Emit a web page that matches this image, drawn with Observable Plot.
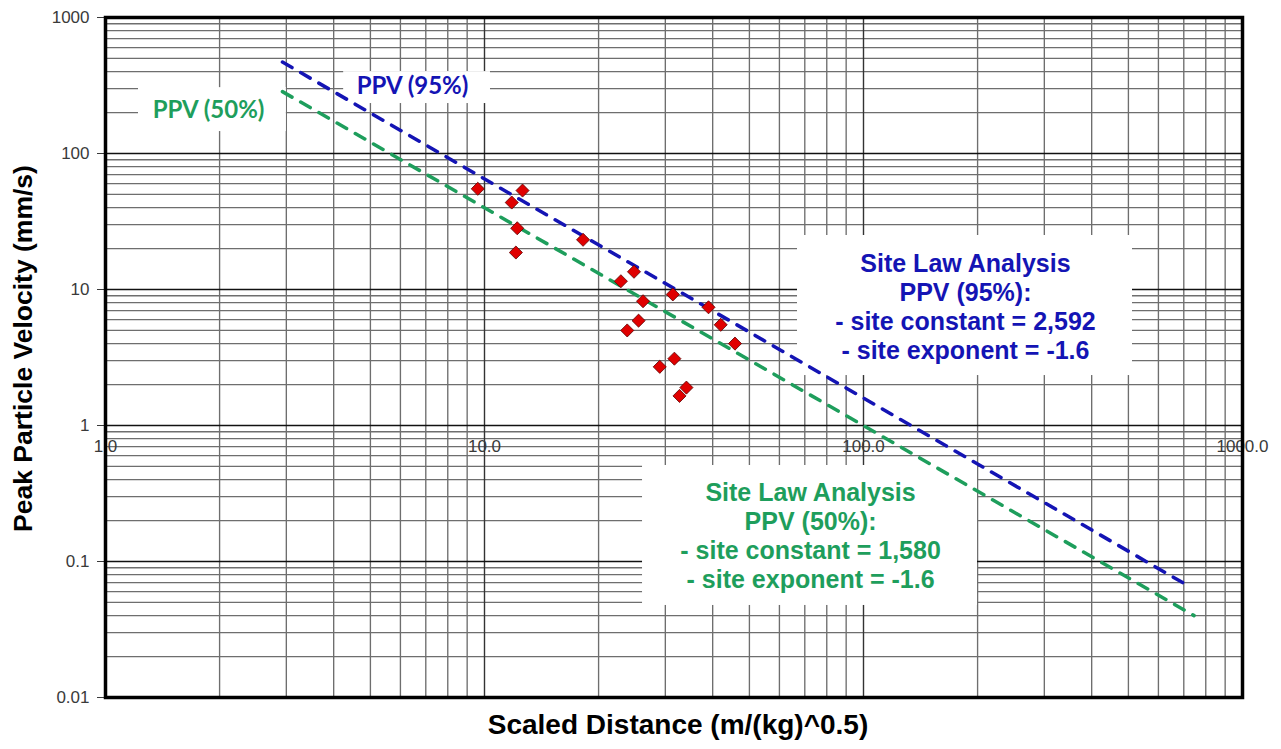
<!DOCTYPE html>
<html><head><meta charset="utf-8">
<script src="https://cdn.jsdelivr.net/npm/d3@7"></script>
<script src="https://cdn.jsdelivr.net/npm/@observablehq/plot@0.6"></script>
<style>body{margin:0;background:#fff;} #chart svg{display:block}</style>
</head><body><div id="chart"></div>
<script>
// Measured blasts: scaled distance (m/kg^0.5) and peak particle velocity (mm/s)
const scaledDistance = [9.6, 12.6, 11.8, 12.2, 12.1, 18.2, 24.8, 22.9, 31.4, 26.2, 39.0, 25.5, 42.0, 23.8, 45.8, 31.7, 29.0, 34.1, 32.7];
const peakVelocity   = [55.0, 53.4, 43.6, 28.2, 18.7, 23.2, 13.5, 11.5, 9.2, 8.2, 7.4, 5.9, 5.5, 5.0, 4.0, 3.1, 2.7, 1.9, 1.65];

// Site law lines (end points)
const fit95SD  = [2.93, 695];
const fit95PPV = [470, 0.07];
const fit50SD  = [2.93, 745];
const fit50PPV = [285, 0.04];

// Tick labels
const yTicks = [0.01, 0.1, 1, 10, 100, 1000];
const yTickLabels = ["0.01", "0.1", "1", "10", "100", "1000"];
const xTicks = [1, 10, 100, 1000];
const xTickLabels = ["1.0", "10.0", "100.0", "1000.0"];

// Annotation texts
const label95 = "PPV (95%)";
const label50 = "PPV (50%)";
const note95 = ["Site Law Analysis", "PPV (95%):", "- site constant = 2,592", "- site exponent = -1.6"];
const note50 = ["Site Law Analysis", "PPV (50%):", "- site constant = 1,580", "- site exponent = -1.6"];
const xTitle = "Scaled Distance (m/(kg)^0.5)";
const yTitle = "Peak Particle Velocity (mm/s)";

// Build tables
const points = scaledDistance.map((d, i) => ({sd: d, ppv: peakVelocity[i]}));
const line95 = fit95SD.map((d, i) => ({sd: d, ppv: fit95PPV[i]}));
const line50 = fit50SD.map((d, i) => ({sd: d, ppv: fit50PPV[i]}));

// Log gridlines
const xMinor = [1, 10, 100].flatMap(d => d3.range(2, 10).map(k => d * k));
const yMinor = [0.01, 0.1, 1, 10, 100].flatMap(d => d3.range(2, 10).map(k => +(d * k).toPrecision(3)));

const BLUE = "#1414b4";
const GREEN = "#1e9e5c";
const SANS = "'Liberation Sans', Arial, sans-serif";
const HUMAN = "Lato, 'Open Sans', sans-serif";

const chart = Plot.plot({
  width: 1281,
  height: 749,
  marginLeft: 105,
  marginRight: 39,
  marginTop: 17,
  marginBottom: 52,
  x: {type: "log", domain: [1, 1000], axis: null},
  y: {type: "log", domain: [0.01, 1000], axis: null},
  style: {fontFamily: SANS, background: "white"},
  marks: [
    Plot.ruleX(xMinor, {stroke: "#6e6e6e", strokeWidth: 1.35}),
    Plot.ruleY(yMinor, {stroke: "#6e6e6e", strokeWidth: 1.35}),
    Plot.ruleX(xTicks, {stroke: "#333", strokeWidth: 1.4}),
    Plot.ruleY(yTicks, {stroke: "#111", strokeWidth: 1.6}),
    // white annotation boxes
    Plot.rect([0], {x1: () => 1.222, x2: () => 3.0, y1: () => 305, y2: () => 145, fill: "white"}),
    Plot.rect([0], {x1: () => 4.25, x2: () => 10.37, y1: () => 400, y2: () => 233, fill: "white"}),
    Plot.rect([0], {x1: () => 66.97, x2: () => 512.6, y1: () => 24.95, y2: () => 2.33, fill: "white"}),
    Plot.rect([0], {x1: () => 26.12, x2: () => 199.9, y1: () => 0.508, y2: () => 0.0475, fill: "white"}),
    Plot.axisY({ticks: yTicks, tickFormat: d => yTickLabels[yTicks.indexOf(d)], tickSize: 8, tickPadding: 8, fontSize: 17, color: "#3a3a3a", label: null}),
    Plot.text(xTicks, {x: d => d, y: () => 1, dy: 21, text: (d, i) => xTickLabels[i], fontSize: 17, fill: "#3a3a3a"}),
    Plot.line(line95, {x: "sd", y: "ppv", stroke: BLUE, strokeWidth: 3.5, strokeDasharray: "11,10"}),
    Plot.line(line50, {x: "sd", y: "ppv", stroke: GREEN, strokeWidth: 3.5, strokeDasharray: "11,10"}),
    Plot.dot(points, {x: "sd", y: "ppv", symbol: "diamond2", r: 5.9, fill: "#e00000", stroke: "#5a0000", strokeWidth: 0.8}),
    Plot.text([label95], {x: () => 6.457, y: () => 311, text: d => d, fontFamily: HUMAN, fontWeight: "bold", fontSize: 24, fill: BLUE}),
    Plot.text([label50], {x: () => 1.87, y: () => 207, text: d => d, fontFamily: HUMAN, fontWeight: "bold", fontSize: 24, fill: GREEN}),
    Plot.text([note95.join("\n")], {x: () => 185.8, y: () => 7.5, text: d => d, fontWeight: "bold", fontSize: 25, lineHeight: 1.16, fill: BLUE}),
    Plot.text([note50.join("\n")], {x: () => 72.5, y: () => 0.1566, text: d => d, fontWeight: "bold", fontSize: 25, lineHeight: 1.16, fill: GREEN}),
    Plot.frame({stroke: "black", strokeWidth: 3.5}),
    Plot.text([xTitle], {frameAnchor: "bottom", dx: 4, dy: 36, text: d => d, fontSize: 28, fontWeight: "bold", fill: "black"}),
    Plot.text([yTitle], {frameAnchor: "left", textAnchor: "middle", dx: -82, dy: -9, rotate: -90, text: d => d, fontSize: 26.5, fontWeight: "bold", fill: "black"})
  ]
});
document.getElementById("chart").append(chart);
</script>
</body></html>
